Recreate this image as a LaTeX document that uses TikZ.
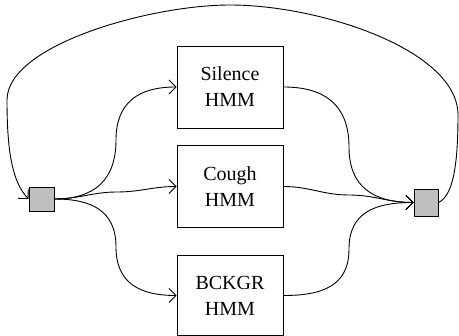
\documentclass[tikz,border=0pt]{standalone}
\usepackage{fontspec}
\setmainfont{Liberation Serif}
\usetikzlibrary{arrows.meta}
\begin{document}
\begin{tikzpicture}[x=1pt,y=-1pt,line width=0.9pt,
  hmm/.style={draw,minimum width=106pt,minimum height=82pt,inner sep=0pt,align=center,font=\fontsize{20}{26}\selectfont},
  sq/.style={draw,fill=black!25,inner sep=0pt},
  arr/.style={-{Straight Barb[length=7pt,width=14pt]}}]
\useasboundingbox (0,0) rectangle (459,336);
\node[sq,minimum width=25pt,minimum height=24pt] (L) at (41.5,199) {};
\node[sq,minimum width=24pt,minimum height=27pt] (R) at (426,202.5) {};
\node[hmm] (S) at (230,87) {Silence\\HMM};
\node[hmm] (C) at (230,186.5) {Cough\\HMM};
\node[hmm,minimum height=80pt] (B) at (230,295.5) {BCKGR\\HMM};
\coordinate (m1) at (116,140);
\coordinate (m2) at (117,192);
\coordinate (m3) at (116,247);
\coordinate (n1) at (349,147);
\coordinate (n2) at (349,195);
\coordinate (n3) at (349,249);
\draw[arr] (L.east) to[out=0,in=-90,looseness=1.2] (m1) to[out=90,in=180,looseness=1.2] (S.west);
\draw[arr] (L.east) to[out=0,in=180] (m2) to[out=0,in=180] (C.west);
\draw[arr] (L.east) to[out=0,in=90,looseness=1.2] (m3) to[out=-90,in=180,looseness=1.2] (B.west);
\draw[arr] (S.east) to[out=0,in=90,looseness=1.2] (n1) to[out=-90,in=180,looseness=1.2] (R.west);
\draw[arr] (C.east) to[out=0,in=180] (n2) to[out=0,in=180] (R.west);
\draw[arr] (B.east) to[out=0,in=-90,looseness=1.2] (n3) to[out=90,in=180,looseness=1.2] (R.west);
\draw[arr] (R.east) .. controls (452,196) and (458,170) .. (458,115)
  .. controls (458,50) and (320,5) .. (230,5)
  .. controls (150,5) and (7,45) .. (7,100)
  .. controls (7,150) and (12,182) .. (L.west);
\end{tikzpicture}
\end{document}
